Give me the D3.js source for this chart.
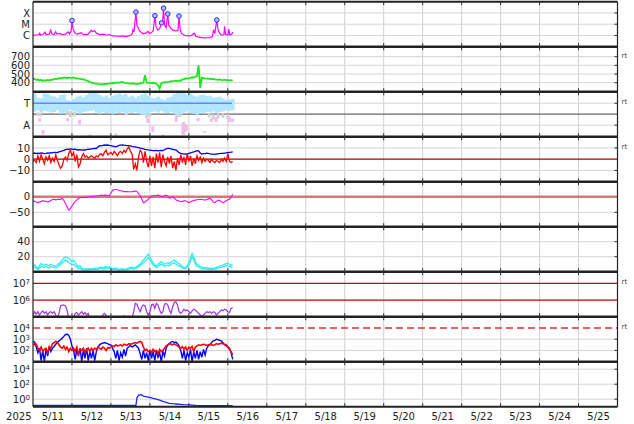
<!DOCTYPE html>
<html><head><meta charset="utf-8">
<script src="https://cdn.jsdelivr.net/npm/d3@7/dist/d3.min.js"></script>
<style>
html,body{margin:0;padding:0;background:#fff;}
svg{display:block;}
text{font-family:"DejaVu Sans",Verdana,sans-serif;}
</style></head>
<body><svg id="chart" width="634" height="424"></svg>
<script>
// ---------- labels ----------
const dayLabels=["5/11","5/12","5/13","5/14","5/15","5/16","5/17","5/18","5/19","5/20","5/21","5/22","5/23","5/24","5/25"];
const yearLabel="2025";

// ---------- panel 1: X-ray flux (W/m2), hours from 5/11 00UT ----------
const xrayHours=[0,2,3.8,4.1,4.5,6,7.4,8,10,10.9,11.6,13,14,14.8,16.4,18,20,21.6,22.5,23.5,24,24.6,25.7,27,29.8,31,34,35.9,37,38,39,41,43,45,47,49,52,55,57,59.5,61,61.6,62.2,63.4,64,65.7,67.7,69.5,70.8,71.8,72.8,74,75.1,75.8,76.9,78,79.2,79.8,80.4,81,82,83,83.6,85,86.2,88,89.3,89.9,90.6,91.3,93,94.4,97,99.5,100.2,102,105,108.7,110.5,111.2,112,113.2,114,114.9,116,117.6,118,118.6,120,120.6,121.2,122.5,123.1];
const xrayFlux=[1.0e-6,1.1e-6,1.2e-6,1.8e-6,1.1e-6,1.2e-6,2.0e-6,1.2e-6,1.3e-6,3.0e-6,1.4e-6,1.2e-6,2.1e-6,1.3e-6,1.5e-6,1.2e-6,1.3e-6,2.1e-6,1.4e-6,2.5e-6,2.1e-5,4e-6,1.7e-6,1.3e-6,1.8e-6,1.2e-6,1.3e-6,2.8e-6,2.2e-6,2.6e-6,1.6e-6,1.2e-6,1.3e-6,1.1e-6,1.2e-6,0.9e-6,0.85e-6,0.9e-6,0.8e-6,0.95e-6,1.3e-6,3.2e-6,2.0e-6,1.2e-4,8e-6,2.5e-6,1.4e-6,1.6e-6,2.3e-6,1.5e-6,1.7e-6,2.5e-6,5.7e-5,6e-6,3e-6,4e-6,1.3e-5,1.5e-5,2.7e-4,9e-6,5e-6,8.1e-5,8e-6,4e-6,3e-6,2.5e-6,2.8e-6,5.3e-5,4e-6,1.6e-6,1.1e-6,0.95e-6,0.9e-6,1.6e-6,0.9e-6,0.7e-6,0.6e-6,0.65e-6,0.8e-6,3.2e-6,1.5e-6,2.4e-5,3e-6,1.6e-6,1.1e-6,1.2e-6,6.5e-6,1.2e-6,1.1e-6,3.7e-6,1.1e-6,1.4e-6,2.0e-6];
const flareHours=[24,63.4,75.1,79.2,80.4,83,89.9,113.2];
const flareFlux=[2.1e-5,1.2e-4,5.7e-5,1.3e-5,2.7e-4,8.1e-5,5.3e-5,2.4e-5];
const xrayTicks=[1e-4,1e-5,1e-6];
const xrayTickLabels=["X","M","C"];

// ---------- panel 2: solar wind speed (km/s), hourly ----------
const windSpeed=[439,445,430,436,428,433,420,428,424,431,426,434,
432,440,446,441,451,456,449,460,458,452,461,455,
455,460,450,453,447,444,438,440,432,425,418,409,
402,398,393,390,386,384,380,382,385,384,390,389,
393,396,392,400,404,398,405,409,402,398,395,393,
390,388,392,386,384,390,395,393,400,485,402,398,
400,395,399,393,388,370,330,395,400,405,402,410,
413,418,415,422,424,419,426,420,439,442,448,446,
451,455,462,458,470,476,600,340,458,452,449,447,
447,444,440,443,439,436,434,438,432,430,434,429,
428,426,430,424];
const speedTicks=[700,600,500,400];

// ---------- panel 3: IMF sector (T = +1, A = -1), 2-hour bins ----------
const dirTop=[1.9,1.5,1.45,1.9,1.85,1.7,1.6,1.5,1.75,1.8,1.3,1.2,1.4,1.6,1.7,1.55,1.75,1.95,2.0,1.9,1.75,1.6,1.7,1.5,1.65,1.8,1.9,1.75,1.85,1.6,1.7,1.5,1.65,1.8,1.9,1.7,1.5,1.45,1.6,1.4,1.3,1.5,1.6,1.85,2.0,2.05,1.9,1.8,1.9,1.7,1.6,1.75,1.8,1.65,1.7,1.5,1.55,1.6,1.45,1.3,1.35,1.4];
const dirBot=[0.25,0.35,0.15,0.3,0.25,0.15,0.2,0.35,0.05,0.15,0.35,0.4,0.25,0.15,0.05,0.2,0.25,0.3,0.35,0.15,0.05,0.2,0.1,0.15,0.0,0.15,0.1,0.2,0.05,0.15,0.1,0.2,0.05,-0.05,-0.1,0.05,0.2,0.25,0.15,0.3,0.15,0.1,0.2,0.05,-0.05,0.0,0.15,0.25,0.1,0.05,-0.05,0.15,0.05,0.2,0.15,0.25,0.1,0.2,0.25,0.35,0.3,0.35];
const grayHours=[3,4.5,21,23,25.5,35,51,57.5,70,72,80,88.5,90.5,92.8,93.5,108.5,111,114,117,120];
const grayTop=[0.15,0.1,0.35,0.3,0.2,-1.85,-1.75,0.25,0.05,0.1,-1.85,0.2,0.1,-0.7,-0.9,0.1,0.0,0.05,0.1,0.0];
const grayBot=[-0.15,-0.2,-0.1,-0.25,-0.2,-2.0,-1.95,-0.1,-0.35,-0.2,-2.0,-0.35,-0.25,-1.9,-1.6,-0.3,-0.5,-0.4,-0.3,-0.45];
const pinkHours=[4.1,6.2,21.3,28.7,70.8,73.8,88.2,92.3,94.4,101.6,105.7,109.8,112.8,121,123];
const pinkTop=[-0.37,-1.45,-0.35,-0.5,-0.35,-1.1,-0.25,-0.8,-0.95,-0.35,-1.55,-0.4,-0.25,-0.25,-0.4];
const pinkBot=[-0.67,-1.85,-0.65,-0.95,-0.8,-1.6,-0.7,-1.85,-1.55,-0.65,-1.7,-0.7,-0.7,-0.7,-0.7];
const dirTicks=[1,-1];
const dirTickLabels=["T","A"];

// ---------- panel 4: Bt (blue) and Bz (red), nT hourly ----------
const imfBt=[5.2,5.5,5.0,5.4,5.1,5.6,5.3,5.0,5.2,5.5,5.4,5.8,
5.6,6.0,6.1,5.9,6.5,7.0,7.3,7.8,8.5,9.0,8.8,9.2,
9.0,8.7,8.9,8.4,8.2,8.5,8.1,8.3,8.2,8.6,9.0,8.8,
9.2,9.4,9.6,9.5,10.8,12.0,11.8,12.3,12.6,12.4,12.6,12.2,
12.0,11.7,11.4,11.0,11.6,12.2,12.6,12.8,12.5,12.3,12.0,12.1,
11.8,11.4,11.2,11.0,10.6,10.2,9.8,9.6,9.2,8.8,8.5,8.2,
8.0,7.8,7.6,7.6,7.9,7.4,7.6,7.8,7.6,8.4,9.2,9.6,
9.6,9.2,8.8,8.4,8.2,7.0,5.8,5.2,4.9,4.6,4.8,4.6,
5.2,5.6,6.0,6.4,7.0,7.6,7.4,5.5,4.6,4.9,5.0,5.4,
5.2,4.8,4.6,4.5,4.3,4.6,4.9,5.0,5.2,5.1,5.4,5.6,
5.8,6.0,6.2,6.5];
const imfBz=[-2,-1,-3,3,-2,4,0,-4,2,-1,3,-3,
1,-2,4,-1,-5,-8,-6,0,2,-1,5,8,
3,6,-2,4,-7,-4,2,5,2,3,1,2,
3,2,1,3,2,4,5,3,6,8,4,5,
6,4,7,5,3,6,7,5,8,6,9,11,
7,5,-9,-4,-10,2,8,6,-3,7,-2,-7,
3,-6,2,-8,5,-3,6,-7,4,-2,-6,2,
-4,3,-8,-2,-10,1,-5,4,-3,2,-5,5,
-2,3,-6,1,-4,3,-1,2,-3,1,-2,0,
-1,-3,0,-2,-3,-1,-2,-3,0,-2,1,-2,
5,-2,-3,-2];
const imfTicks=[10,0,-10];

// ---------- panel 5: Dst (nT), hourly ----------
const dst=[-13,-15,-17,-19,-17,-15,-13,-14,-15,-17,-15,-12,
-9,-8,-10,-9,-8,-9,-5,-12,-22,-32,-43,-38,
-30,-22,-14,-10,-6,-3,-2,-3,-2,-2,-1,0,
1,2,1,2,3,4,5,4,5,5,4,2,
12,21,23,23,22,20,19,18,16,17,16,16,
16,16,17,18,17,10,4,-8,-19,-16,-13,-8,
-3,2,3,4,4,5,3,1,0,3,5,2,
-5,-2,0,-4,-10,-12,-14,-16,-15,-13,-13,-16,
-19,-16,-14,-12,-11,-10,-9,-8,-9,-10,-11,-9,
-7,-5,-10,-17,-19,-14,-11,-12,-16,-19,-16,-13,
-10,-8,-2,8];
const dstTicks=[0,-50];

// ---------- panel 6: two cyan series, hourly ----------
const cyanA=[6.7,9,7,4.5,8,11,9,8.9,10,9,8,10,
9,8,7.6,9,11,13,15.6,18,20,19,17.8,16,
13.3,15,12,9,6.7,8,5,4,3.1,4,3.5,4.5,
3.5,4,4.5,5,4,5.8,6,5,5.8,7,6,6.7,
5,4,4.5,5,4,3,3.5,4,3.1,3.5,4,5,
5.8,6,5,6,7,8.9,10,13,15.6,18,21,23.6,
20,15.6,12,9,7.6,10,12,13.3,12,10,11,12,
11,13,14,15.6,14,12,11,9,7,5.8,6,8,
12,18,24.5,20,13.3,10,8.9,7,6,5,5.5,5,
4.5,5,4,4.5,5,6,7,7.6,8,9,10,11,
11,10,9,8.9];
const cyanB=[4,6,5,3,5,7,6,6,7,6,5,7,
6,6,5,6,8,10,12,14,16,14,13,11,
9,10,8,6,4,5,3,2.5,2,2.5,2,3,
2.5,3,3,3.5,3,4,4.5,3.5,4,5,4.5,5,
3.5,3,3,3.5,3,2,2.5,3,2,2.5,3,3.5,
4,4.5,3.5,4.5,5,6.5,8,10,12,14,16,19,
16,12,9,7,5.5,7,9,10,9,7,8,9,
8,10,11,12,10,9,8,6.5,5,4,4.5,6,
9,14,20,16,10,7,6.5,5,4.5,3.5,4,3.5,
3,3.5,3,3,3.5,4,5,5.5,6,6.5,7,8,
8,7,6.5,6];
const cyanTicks=[40,20];

// ---------- panel 7: electron flux, log10, hourly ----------
const electronLog10=[5.1,5.3,5.15,5.3,5.1,5.25,5.35,5.2,5.3,5.1,5.25,5.3,
5.2,5.3,5.1,4.9,5.2,5.65,5.7,5.7,5.65,5.4,4.9,4.8,
4.8,4.9,5.2,5.25,5.1,5.2,5.3,5.15,5.25,5.1,5.2,4.9,
4.8,4.8,4.8,4.8,4.8,4.8,4.9,5.1,5.2,5.1,4.9,4.8,
4.8,4.8,4.8,4.8,4.8,4.8,4.8,4.9,5.05,4.9,4.8,4.8,
4.8,4.9,5.3,5.8,5.75,5.5,5.3,5.6,5.7,5.65,5.3,5.1,
5.3,5.7,5.75,5.5,5.8,5.7,5.4,5.2,5.3,5.75,5.8,5.7,
5.4,5.2,5.6,5.85,5.9,5.7,5.3,5.2,5.3,5.45,5.35,5.4,
5.3,5.2,5.35,5.45,5.4,5.3,5.2,5.1,5.0,5.1,5.2,5.3,
5.25,5.3,5.2,5.3,5.25,5.1,5.2,5.3,5.4,5.35,5.45,5.4,
5.3,5.25,5.5,5.55];
const electronRefs=[1e7,1e6];

// ---------- panel 8: proton flux, log10, hourly ----------
const protonBlueLog10=[2.8,2.75,2.3,1.8,2.2,1.1,2.0,1.0,2.1,1.5,2.3,1.9,
2.2,2.35,2.55,2.7,2.85,2.95,3.1,3.25,3.42,3.44,3.35,3.0,
2.4,2.0,1.2,2.1,1.5,2.2,1.0,2.0,1.3,2.2,1.1,1.9,
1.3,2.0,1.1,1.9,2.3,2.5,2.6,2.65,2.7,2.65,2.6,2.5,
2.5,2.2,1.9,1.3,2.0,1.1,1.8,1.4,2.1,1.5,2.2,2.3,
2.45,2.3,2.4,2.5,2.35,2.2,1.7,1.2,2.0,1.3,1.8,1.1,
2.0,1.3,1.9,1.1,2.0,1.4,1.8,1.0,1.9,1.5,2.2,2.5,
2.6,2.75,2.8,2.7,2.75,2.6,2.4,2.0,1.3,2.0,1.1,1.8,
1.4,2.1,1.0,1.9,1.3,2.0,1.2,1.9,1.4,2.1,1.6,2.2,
2.4,2.5,2.7,2.85,2.9,3.0,2.95,2.9,2.85,2.7,2.5,2.4,
2.3,2.2,1.8,1.2];
const protonRedLog10=[2.6,2.5,2.55,2.2,2.0,2.3,1.9,2.1,2.2,1.8,2.3,2.2,
2.6,2.7,2.8,2.75,2.5,2.3,2.2,2.4,2.1,2.3,1.9,2.2,
2.0,2.2,1.9,2.3,1.7,2.1,2.0,2.2,1.8,2.1,2.2,1.9,
2.2,2.0,2.2,2.1,2.3,2.2,2.1,2.3,2.2,2.0,2.25,2.2,
2.3,2.4,2.35,2.5,2.4,2.45,2.5,2.4,2.55,2.5,2.45,2.6,
2.55,2.6,2.65,2.7,2.65,2.75,2.8,2.7,2.3,2.0,2.1,1.9,
2.0,1.8,2.1,1.9,2.0,1.7,2.1,1.9,2.0,2.2,2.4,2.5,
2.6,2.55,2.5,2.6,2.5,2.4,2.3,2.2,2.35,2.1,2.3,2.0,
2.3,2.2,2.35,1.9,2.3,2.4,2.5,2.45,2.5,2.55,2.5,2.45,
2.5,2.55,2.5,2.45,2.5,2.6,2.55,2.6,2.65,2.6,2.55,2.5,
2.3,2.1,1.9,1.6];
const protonTicks=[1e4,1e3,1e2];
const protonRef=1e4;

// ---------- panel 9: high-energy proton flux ----------
const p9Hours=[0,20,40,63.4,64,65,66.7,68,69.5,71.8,74,75.9,78,80,82,84,86,88.2,92.3,96.4,100.5,110,123];
const p9Flux=[0.15,0.15,0.15,0.15,1.5,3.5,4.0,2.5,2.2,1.75,1.3,1.05,0.75,0.51,0.38,0.28,0.25,0.23,0.19,0.17,0.15,0.14,0.135];
const p9Ticks=[1e4,1e2,1e0];

// ================= drawing =================
const svg=d3.select("#chart");
const L=33, R=617.5, T0=1.7, PH=45, NP=9;
const t0=Date.UTC(2025,4,11);
const DAY=864e5;
const x=d3.scaleUtc().domain([new Date(t0),new Date(t0+15*DAY)]).range([L,R]);
const hx=h=>x(new Date(t0+h*36e5));
const panelTop=i=>T0+i*PH;
const rng=i=>[panelTop(i)+PH,panelTop(i)];

const yX=d3.scaleLog().domain([1e-7,1e-3]).range(rng(0));
const yV=d3.scaleLinear().domain([296,815]).range(rng(1));
const yD=d3.scaleLinear().domain([-2.05,2.05]).range(rng(2));
const yB=d3.scaleLinear().domain([-20,20]).range(rng(3));
const yS=d3.scaleLinear().domain([-96,48]).range(rng(4));
const yC=d3.scaleLinear().domain([0,60]).range(rng(5));
const yE=d3.scaleLog().domain([1e5,Math.pow(10,7.7)]).range(rng(6));
const yP=d3.scaleLog().domain([10,1e5]).range(rng(7));
const yH=d3.scaleLog().domain([0.1,1e5]).range(rng(8));

const defs=svg.append("defs");
for(let i=0;i<NP;i++){
  defs.append("clipPath").attr("id","cp"+i).append("rect")
    .attr("x",L).attr("y",panelTop(i)).attr("width",R-L).attr("height",PH);
}
const gGrid=svg.append("g");
const dayTicks=d3.range(1,15).map(d=>new Date(t0+d*DAY));
gGrid.selectAll("line.vg").data(dayTicks).join("line")
  .attr("x1",d=>x(d)).attr("x2",d=>x(d)).attr("y1",T0).attr("y2",panelTop(NP))
  .attr("stroke","#cfcfcf").attr("stroke-width",1);

const hgrids=[[yX,xrayTicks],[yV,speedTicks],[yD,dirTicks],[yB,[10,-10]],[yS,[-50]],[yC,cyanTicks],[yE,[]],[yP,[1e3,1e2]],[yH,p9Ticks]];
hgrids.forEach(([y,vals])=>{
  gGrid.selectAll(null).data(vals).join("line")
    .attr("x1",L).attr("x2",R).attr("y1",d=>y(d)).attr("y2",d=>y(d))
    .attr("stroke","#d4d4d4").attr("stroke-width",1);
  gGrid.selectAll(null).data(vals).join("line")
    .attr("x1",R-3).attr("x2",R).attr("y1",d=>y(d)).attr("y2",d=>y(d))
    .attr("stroke","#333").attr("stroke-width",1);
});
function hline(y,v,col,w,dash){
  svg.append("line").attr("x1",L).attr("x2",R).attr("y1",y(v)).attr("y2",y(v))
    .attr("stroke",col).attr("stroke-width",w).attr("stroke-dasharray",dash||null);
}
hline(yD,0,"#666",1.2);
hline(yB,0,"#b00000",1.3);
hline(yS,0,"#d27878",2.5);
electronRefs.forEach(v=>hline(yE,v,"#cc0000",1.2));
hline(yP,protonRef,"#e03030",1.5,"7,4");

const lineH=(y,hrs)=>d3.line().x((d,i)=>hx(hrs?hrs[i]:i)).y(d=>y(d));
function pg(i){return svg.append("g").attr("clip-path","url(#cp"+i+")");}

// panel 1
const g1=pg(0);
g1.append("path").attr("d",lineH(yX,xrayHours)(xrayFlux)).attr("fill","none")
  .attr("stroke","#ff00ff").attr("stroke-width",1.2);
g1.selectAll("circle").data(flareFlux).join("circle")
  .attr("cx",(d,i)=>hx(flareHours[i])).attr("cy",d=>yX(d)).attr("r",2.3)
  .attr("fill","#b4bcff").attr("stroke","#2a2aff").attr("stroke-width",1);

// panel 2
pg(1).append("path").attr("d",lineH(yV)(windSpeed)).attr("fill","none")
  .attr("stroke","#1aea1a").attr("stroke-width",1.8);

// panel 3
const g3=pg(2);
g3.selectAll("rect.gr").data(grayTop).join("rect")
  .attr("x",(d,i)=>hx(grayHours[i])-1.5).attr("width",3)
  .attr("y",d=>yD(d)).attr("height",(d,i)=>yD(grayBot[i])-yD(d)).attr("fill","#d0d0d0");
g3.selectAll("rect.tb").data(dirTop).join("rect")
  .attr("x",(d,i)=>hx(i*2)).attr("width",(d,i)=>hx(i*2+2)-hx(i*2)+0.3)
  .attr("y",d=>yD(d)).attr("height",(d,i)=>yD(dirBot[i])-yD(d)).attr("fill","#b0e6ff");
g3.selectAll("rect.pk").data(pinkTop).join("rect")
  .attr("x",(d,i)=>hx(pinkHours[i])-1.5).attr("width",3)
  .attr("y",d=>yD(d)).attr("height",(d,i)=>yD(pinkBot[i])-yD(d)).attr("fill","#f8b8f2");
g3.append("line").attr("x1",hx(0)).attr("x2",hx(122.5)).attr("y1",yD(1)).attr("y2",yD(1))
  .attr("stroke","#6f80ff").attr("stroke-width",1.6);

// panel 4
const g4=pg(3);
g4.append("path").attr("d",lineH(yB)(imfBt)).attr("fill","none").attr("stroke","#0000ff").attr("stroke-width",1.3);
g4.append("path").attr("d",lineH(yB)(imfBz)).attr("fill","none").attr("stroke","#ff0000").attr("stroke-width",1.3);

// panel 5
pg(4).append("path").attr("d",lineH(yS)(dst)).attr("fill","none").attr("stroke","#ff00ff").attr("stroke-width",1.1);

// panel 6
const g6=pg(5);
g6.append("path").attr("d",lineH(yC)(cyanB)).attr("fill","none").attr("stroke","#22eef0").attr("stroke-width",1.2);
g6.append("path").attr("d",lineH(yC)(cyanA)).attr("fill","none").attr("stroke","#22eef0").attr("stroke-width",1.2);

// panel 7
pg(6).append("path").attr("d",lineH(yE)(electronLog10.map(v=>Math.pow(10,v)))).attr("fill","none")
  .attr("stroke","#a030e0").attr("stroke-width",1.2);

// panel 8
const g8=pg(7);
g8.append("path").attr("d",lineH(yP)(protonBlueLog10.map(v=>Math.pow(10,v)))).attr("fill","none")
  .attr("stroke","#0000ff").attr("stroke-width",1.4);
g8.append("path").attr("d",lineH(yP)(protonRedLog10.map(v=>Math.pow(10,v)))).attr("fill","none")
  .attr("stroke","#ff0000").attr("stroke-width",1.6);

// panel 9
pg(8).append("path").attr("d",lineH(yH,p9Hours)(p9Flux)).attr("fill","none")
  .attr("stroke","#2020ff").attr("stroke-width",1.3);

// borders
const gB=svg.append("g");
d3.range(NP+1).forEach(i=>{
  gB.append("line").attr("x1",L).attr("x2",R).attr("y1",panelTop(i)).attr("y2",panelTop(i))
    .attr("stroke","#222").attr("stroke-width",(i==0||i==NP)?2:2.6);
  gB.selectAll(null).data(dayTicks).join("line")
    .attr("x1",d=>x(d)).attr("x2",d=>x(d))
    .attr("y1",panelTop(i)-(i==0?0:3.5)).attr("y2",panelTop(i)+(i==NP?0:3.5))
    .attr("stroke","#333").attr("stroke-width",1);
});
gB.append("line").attr("x1",L).attr("x2",L).attr("y1",T0).attr("y2",panelTop(NP)).attr("stroke","#222").attr("stroke-width",1.2);
gB.append("line").attr("x1",R).attr("x2",R).attr("y1",T0).attr("y2",panelTop(NP)).attr("stroke","#222").attr("stroke-width",1.2);

// left labels
function leftAxis(y,vals,fmt,sup){
  const g=svg.append("g").attr("transform",`translate(${L},0)`)
    .call(d3.axisLeft(y).tickValues(vals).tickSize(0).tickPadding(3).tickFormat(fmt||(d=>d)));
  g.select(".domain").remove();
  g.attr("font-family","DejaVu Sans, sans-serif").attr("font-size",10);
  g.selectAll("text").attr("fill","#222");
  if(sup){
    g.selectAll(".tick text").each(function(d){
      const t=d3.select(this); t.text(null);
      t.append("tspan").text("10");
      t.append("tspan").attr("dy","-0.45em").attr("font-size",7).text(Math.round(Math.log10(d)));
    });
  }
}
const minus=d=>String(d).replace("-","\u2212");
leftAxis(yX,xrayTicks,(d,i)=>xrayTickLabels[i]);
leftAxis(yV,speedTicks,minus);
leftAxis(yD,dirTicks,(d,i)=>dirTickLabels[i]);
leftAxis(yB,imfTicks,minus);
leftAxis(yS,dstTicks,minus);
leftAxis(yC,cyanTicks,minus);
leftAxis(yE,electronRefs,null,true);
leftAxis(yP,protonTicks,null,true);
leftAxis(yH,p9Ticks,null,true);

// bottom axis
const noon=dayLabels.map((d,i)=>new Date(t0+i*DAY+DAY/2));
const gx=svg.append("g").attr("transform",`translate(0,${panelTop(NP)})`)
  .call(d3.axisBottom(x).tickValues(noon).tickSize(0).tickPadding(6).tickFormat((d,i)=>dayLabels[i]));
gx.select(".domain").remove();
gx.attr("font-family","DejaVu Sans, sans-serif").attr("font-size",10);
gx.selectAll("text").attr("fill","#222");
svg.append("text").attr("x",18.8).attr("y",panelTop(NP)+6).attr("dy","0.71em")
  .attr("text-anchor","middle").attr("font-size",10).attr("fill","#222").text(yearLabel);

// "rt" markers
const rtMarks=[[yV,700],[yD,1],[yB,10],[yE,1e7],[yP,1e4]];
svg.selectAll("text.rt").data(rtMarks).join("text").attr("class","rt")
  .attr("x",621.5).attr("y",d=>d[0](d[1])+1).attr("font-size",7).attr("fill","#444").text("rt");
</script>
</body></html>
